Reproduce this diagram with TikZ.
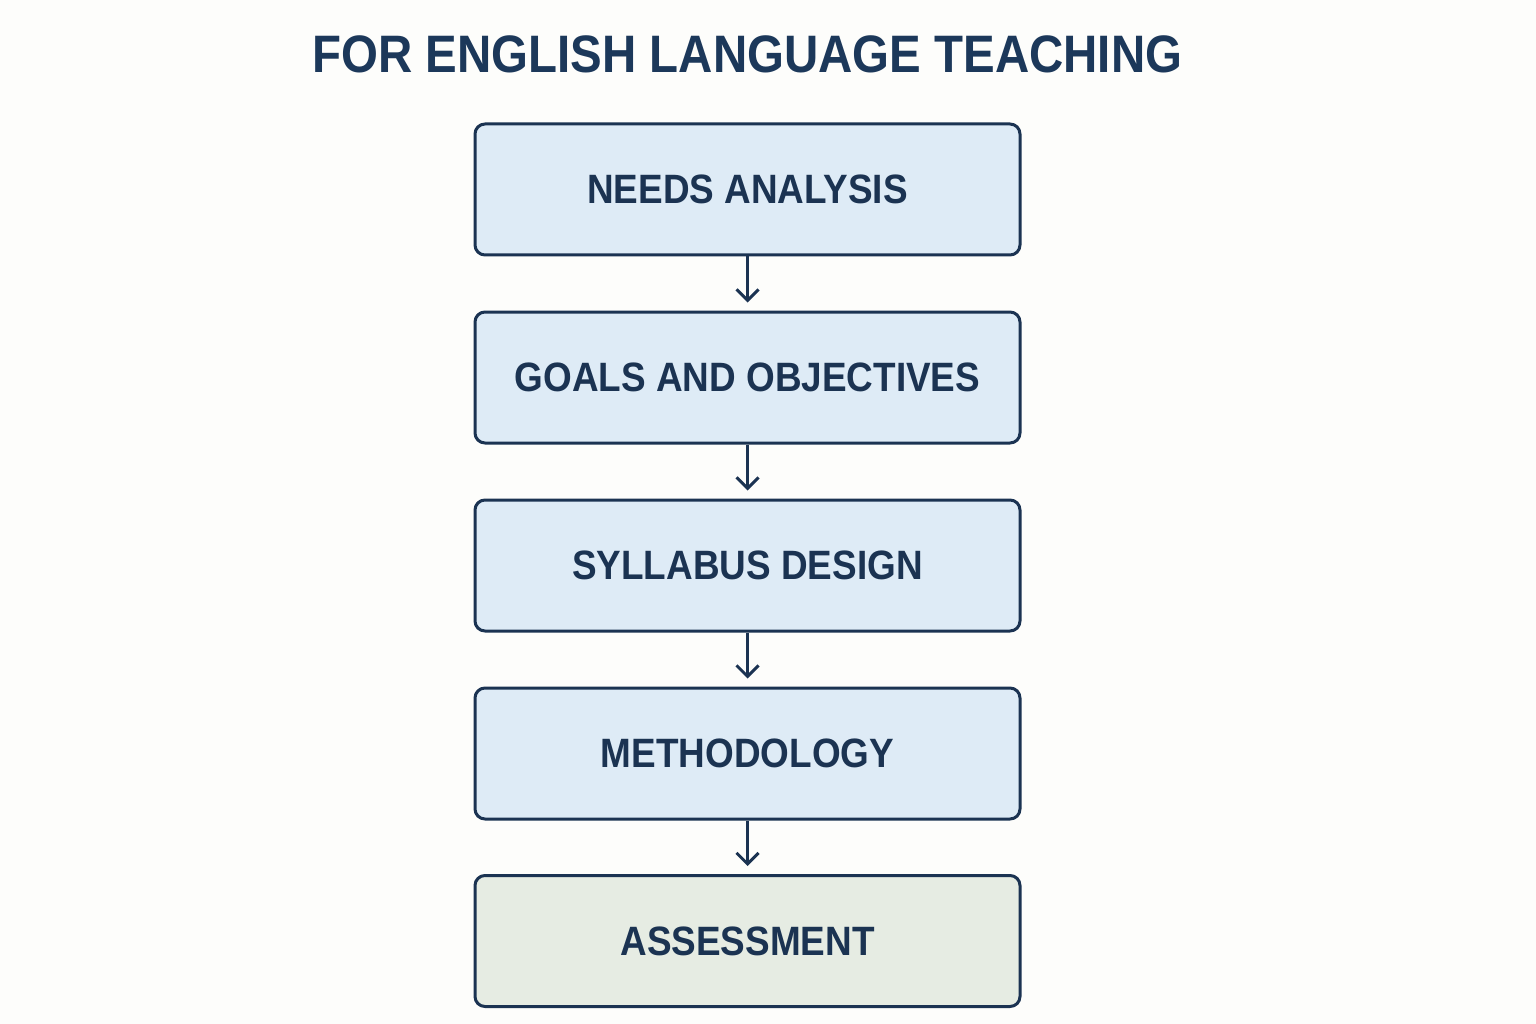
\documentclass[tikz,border=0pt]{standalone}
\usepackage{fontspec}
\setmainfont{Liberation Sans}[FakeStretch=0.9]
\usetikzlibrary{arrows.meta}
\definecolor{navy}{HTML}{1B3352}
\definecolor{titlecol}{HTML}{1C385A}
\definecolor{bluefill}{HTML}{DEEBF6}
\definecolor{greenfill}{HTML}{E6ECE3}
\definecolor{bg}{HTML}{FDFDFB}
\begin{document}
\begin{tikzpicture}[x=1pt,y=-1pt,
  stagebox/.style={draw=navy, line width=3pt, rounded corners=10pt, fill=bluefill,
    minimum width=545pt, minimum height=131pt, inner sep=0pt,
    text=navy, font=\fontsize{41}{48}\selectfont\bfseries},
  flowarrow/.style={draw=navy, line width=3pt, -{Straight Barb[length=11pt,width=22pt,line width=3pt]}, shorten >=8pt}]
\fill[bg] (0,0) rectangle (1536,1024);
\useasboundingbox (0,0) rectangle (1536,1024);
\node[text=titlecol, font=\fontsize{52.7}{60}\selectfont\bfseries] (title) at (747.5,54) {FOR ENGLISH LANGUAGE TEACHING};
\node[stagebox] (needs) at (747.5,189.5) {NEEDS ANALYSIS};
\node[stagebox] (goals) at (747.5,377.5) {GOALS AND OBJECTIVES};
\node[stagebox] (syll) at (747.5,565.5) {SYLLABUS DESIGN};
\node[stagebox] (meth) at (747.5,753.5) {METHODOLOGY};
\node[stagebox, fill=greenfill] (assess) at (747.5,941) {ASSESSMENT};
\draw[flowarrow] (needs) -- (goals);
\draw[flowarrow] (goals) -- (syll);
\draw[flowarrow] (syll) -- (meth);
\draw[flowarrow] (meth) -- (assess);
\end{tikzpicture}
\end{document}
